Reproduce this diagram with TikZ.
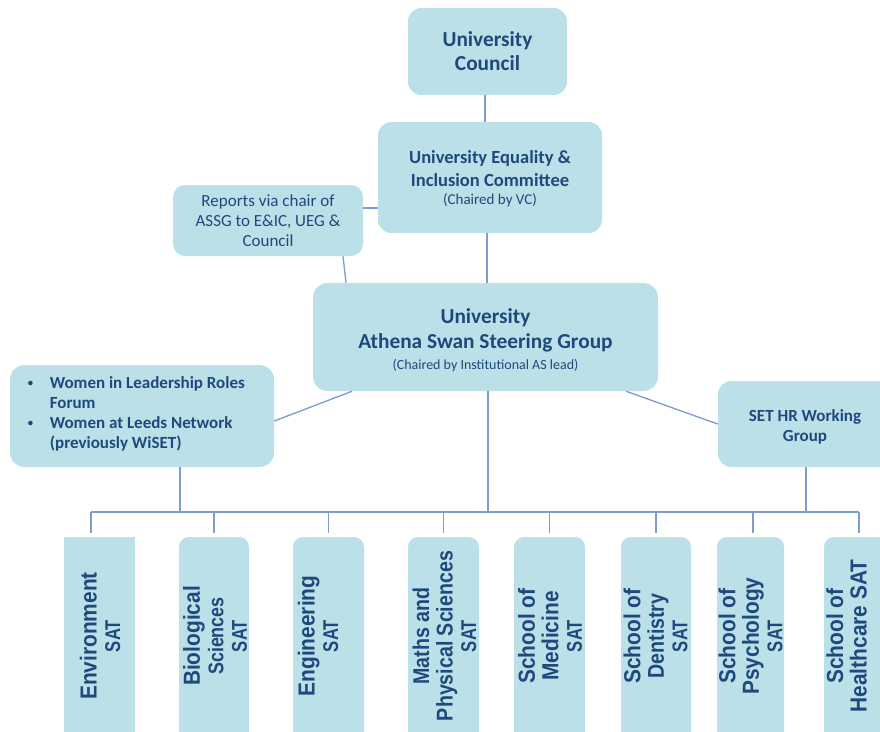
\documentclass[tikz,border=0pt]{standalone}
\usepackage{fontspec}
\setmainfont{Carlito}
% condensed cuts of the label face, one per line width
\newfontfamily\satA[FakeStretch=0.90]{Liberation Sans}
\newfontfamily\satB[FakeStretch=0.78]{Liberation Sans}
\newfontfamily\satC[FakeStretch=0.86]{Liberation Sans}
\newfontfamily\satD[FakeStretch=0.84]{Liberation Sans}
\usetikzlibrary{calc}

\definecolor{boxfill}{RGB}{188,224,232}
\definecolor{ink}{RGB}{31,73,125}
\definecolor{wirecol}{RGB}{125,157,208}

% line styles for the rotated SAT labels
\newcommand\satmain{\satA\bfseries\fontsize{17.4}{17.6}\selectfont}
\newcommand\satsz{\satB\bfseries\fontsize{16}{17.6}\selectfont}
\newcommand\satmid{\satC\bfseries\fontsize{17.1}{17.6}\selectfont}
\newcommand\satsci{\satD\bfseries\fontsize{16}{17.6}\selectfont}
% move a text block vertically without changing the node it sits in
\newcommand\nudge[2]{\raisebox{#1}[\height][\depth]{#2}}

\tikzset{
  panel/.style={fill=boxfill, draw=none, rounded corners=10pt, text=ink,
    align=center, inner sep=0pt},
  satbox/.style={fill=boxfill, draw=none, rounded corners=7.5pt, inner sep=0pt,
    minimum width=53.25pt, minimum height=159.75pt},
  sattext/.style={rotate=90, align=center, text=ink, inner sep=0pt,
    font=\satmain},
  wire/.style={draw=wirecol, line width=1pt},
}

\begin{document}
\begin{tikzpicture}[x=0.75pt,y=-0.75pt]
\useasboundingbox (0,0) rectangle (880,731);
\clip (0,0) rectangle (880,731);

% ---- governance boxes ----
\node[panel, minimum width=119.25pt, minimum height=65.25pt,
      font=\bfseries\fontsize{16}{18}\selectfont] (uc) at (487.5,51.5)
      {University\\Council};

\node[panel, minimum width=168pt, minimum height=83.25pt,
      font=\fontsize{13.9}{17.25}\selectfont] (ueic) at (490,177.5)
      {\nudge{-1.5pt}{\begin{tabular}{@{}c@{}}\textbf{University Equality \&}\\\textbf{Inclusion Committee}\\[-3.5pt]{\fontsize{11.25}{14}\selectfont (Chaired by VC)}\end{tabular}}};

\node[panel, minimum width=142.5pt, minimum height=53.25pt, rounded corners=9pt,
      font=\fontsize{12.75}{15}\selectfont] (rep) at (268,220.5)
      {Reports via chair of\\ASSG to E\&IC, UEG \&\\Council};

\node[panel, minimum width=258.75pt, minimum height=81pt, rounded corners=11pt,
      font=\fontsize{16}{18.75}\selectfont] (assg) at (485.5,337)
      {\nudge{-3.25pt}{\begin{tabular}{@{}c@{}}\textbf{University}\\\textbf{Athena Swan Steering Group}\\[-3pt]{\fontsize{10.5}{13}\selectfont (Chaired by Institutional AS lead)}\end{tabular}}};

\node[panel, minimum width=198pt, minimum height=76.5pt, rounded corners=11pt,
      font=\bfseries\fontsize{12.75}{15}\selectfont] (lb) at (142,416)
      {\nudge{1.5pt}{\begin{tabular}{@{}l@{\hspace{12.5pt}}l@{\hspace{8.5pt}}}
        \raisebox{1pt}{\fontsize{8}{8}\selectfont\textbullet} & Women in Leadership Roles\\
                    & Forum\\
        \raisebox{1pt}{\fontsize{8}{8}\selectfont\textbullet} & Women at Leeds Network\\
                    & (previously WiSET)
      \end{tabular}}};

\node[panel, minimum width=130.5pt, minimum height=64.5pt,
      font=\bfseries\fontsize{12.75}{15}\selectfont] (set) at (805,424)
      {\nudge{-2.25pt}{\begin{tabular}{@{}c@{}}SET HR Working\\Group\end{tabular}}};

% ---- self-assessment team boxes ----
\node[satbox, rounded corners=0pt] (env) at (99.5,643.5) {};
\node[satbox, minimum width=52.5pt] (bio) at (214,643.5) {};
\node[satbox] (eng) at (328.5,643.5) {};
\node[satbox] (mps) at (443.5,643.5) {};
\node[satbox] (med) at (549.5,643.5) {};
\node[satbox, minimum width=52.5pt] (den) at (656,643.5) {};
\node[satbox, minimum width=50.25pt] (psy) at (750.5,643.5) {};
\node[satbox, minimum width=52.5pt] (hc) at (859,643.5) {};

\node[sattext] (envt) at (100,636) {Environment\\{\satsz SAT}};
\node[sattext] (biot) at (215,636) {Biological\\{\satsci Sciences}\\{\satsz SAT}};
\node[sattext] (engt) at (318,636) {Engineering\\{\satsz SAT}};
\node[sattext] (mpst) at (444.5,636) {{\satmid Maths and}\\{\satmid Physical Sciences}\\{\satsz SAT}};
\node[sattext] (medt) at (550,636) {School of\\Medicine\\{\satsz SAT}};
\node[sattext] (dent) at (655.5,636) {School of\\{\satmid Dentistry}\\{\satsz SAT}};
\node[sattext] (psyt) at (750.5,636) {School of\\Psychology\\{\satsz SAT}};
\node[sattext] (hct) at (846.5,636) {School of\\Healthcare SAT};

% ---- connectors ----
\coordinate (bus) at (488,512);
\coordinate (busL) at (91,512);
\coordinate (busR) at (859,512);

\draw[wire] ([xshift=-1.9pt]uc.south) -- ([xshift=-1.9pt]uc.south |- ueic.north);
\draw[wire] ([yshift=9.4pt]rep.east) -- ([yshift=9.4pt]rep.east -| ueic.west);
\draw[wire] ([xshift=56.25pt]rep.south) -- ([xshift=-104.6pt]assg.north);
\draw[wire] ([xshift=-2.25pt]ueic.south) -- ([xshift=-2.25pt]ueic.south |- assg.north);
\draw[wire] ([xshift=-100.1pt]assg.south) -- ([yshift=-3.75pt]lb.east);
\draw[wire] ([xshift=105.4pt]assg.south) -- (set.west);
\draw[wire] (assg.south -| bus) -- (bus);
\draw[wire] ([xshift=28.5pt]lb.south) -- ([xshift=28.5pt]lb.south |- bus);
\draw[wire] ([xshift=0.75pt]set.south) -- ([xshift=0.75pt]set.south |- bus);
\draw[wire] (busL) -- (busR);

\draw[wire] (busL) -- ++(0,21);
\foreach \n in {bio,eng,mps,med,den,hc}
  \draw[wire] (\n.north |- bus) -- ++(0,21);
\draw[wire] ([xshift=1.9pt]psy.north |- bus) -- ++(0,21);
\end{tikzpicture}
\end{document}
